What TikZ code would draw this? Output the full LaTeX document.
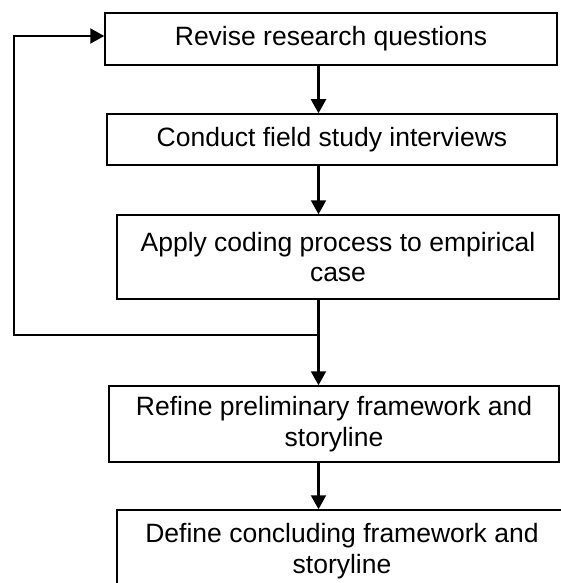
\documentclass[tikz,border=0pt]{standalone}
\usepackage{fontspec}
\setmainfont{Liberation Sans}
\usetikzlibrary{arrows.meta}
\begin{document}
\begin{tikzpicture}[x=1pt,y=-1pt,
  stepbox/.style={draw, line width=1.5pt, rectangle, align=center, inner sep=0pt,
    font=\fontsize{26.5}{30.5}\selectfont},
  flow/.style={line width=2.2pt, -{Triangle[length=14pt,width=15pt]}}]
\useasboundingbox (0,0) rectangle (560,583);

% process steps
\node[stepbox, minimum width=452pt, minimum height=52pt] (b1) at (331,39) {Revise research questions};
\node[stepbox, minimum width=450pt, minimum height=51pt] (b2) at (332,139.5) {Conduct field study interviews};
\node[stepbox, minimum width=442pt, minimum height=84pt] (b3) at (338,257) {Apply coding process to empirical\\case};
\node[stepbox, minimum width=450pt, minimum height=76pt] (b4) at (334,424) {Refine preliminary framework and\\storyline};
\node[stepbox, minimum width=450pt, minimum height=82pt] (b5) at (342,551) {Define concluding framework and\\storyline};

% spine of the main flow and the feedback loop
\coordinate (spine) at (318.5,0);
\coordinate (j) at (318.5,335);
\coordinate (fbbot) at (14,335);
\coordinate (fbtop) at (14,36);

\draw[flow] (b1.south -| spine) -- (b2.north -| spine);
\draw[flow] (b2.south -| spine) -- (b3.north -| spine);
\draw[flow] (b3.south -| spine) -- (b4.north -| spine);
\draw[flow] (b4.south -| spine) -- (b5.north -| spine);
\draw[flow] (j) -- (fbbot) -- (fbtop) -- (b1.west |- fbtop);
\end{tikzpicture}
\end{document}
